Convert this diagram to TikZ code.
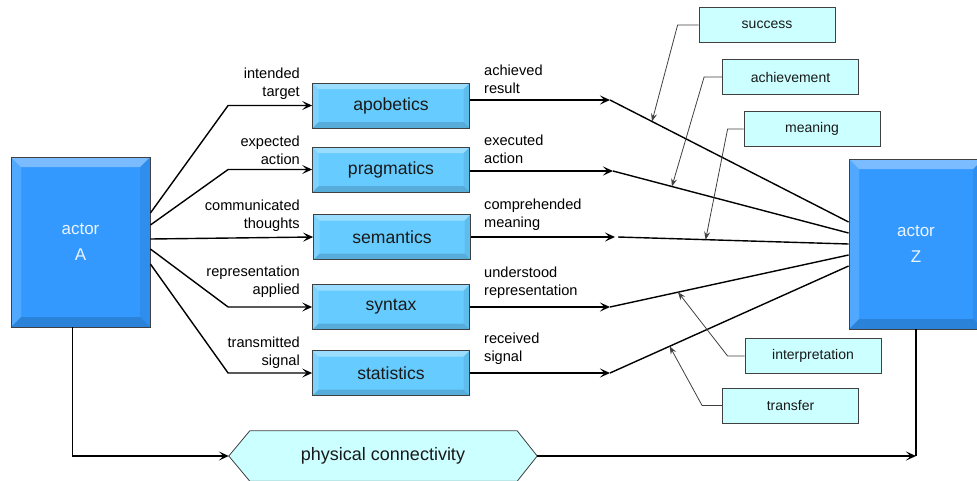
\documentclass[tikz,border=0pt]{standalone}
\usepackage{fontspec}
\setmainfont{Liberation Sans}
\usetikzlibrary{arrows.meta,calc,backgrounds}
\definecolor{actorblue}{HTML}{3399FF}
\definecolor{layerblue}{HTML}{66CCFF}
\definecolor{calloutcyan}{HTML}{CCFFFF}
\definecolor{edgegray}{HTML}{404040}
\newcommand\mybevel[1]{%
  \coordinate (bnw) at (path picture bounding box.north west);
  \coordinate (bne) at (path picture bounding box.north east);
  \coordinate (bsw) at (path picture bounding box.south west);
  \coordinate (bse) at (path picture bounding box.south east);
  \fill[white,opacity=0.35] (bnw) -- (bne) -- ([shift={(-#1pt,-#1pt)}]bne) -- ([shift={(#1pt,-#1pt)}]bnw) -- cycle;
  \fill[white,opacity=0.15] (bnw) -- ([shift={(#1pt,-#1pt)}]bnw) -- ([shift={(#1pt,#1pt)}]bsw) -- (bsw) -- cycle;
  \fill[black,opacity=0.15] (bsw) -- ([shift={(#1pt,#1pt)}]bsw) -- ([shift={(-#1pt,#1pt)}]bse) -- (bse) -- cycle;
  \fill[black,opacity=0.07] (bne) -- (bse) -- ([shift={(-#1pt,#1pt)}]bse) -- ([shift={(-#1pt,-#1pt)}]bne) -- cycle;
}
\begin{document}
\begin{tikzpicture}[x=1pt,y=-1pt,
  actor/.style={draw=edgegray, line width=0.8pt, fill=actorblue, minimum width=139pt, minimum height=170pt,
    text=white!90!actorblue, font=\fontsize{17}{26}\selectfont, align=center, path picture={\mybevel{10}}},
  layer/.style={draw=edgegray, line width=0.8pt, fill=layerblue, minimum width=157pt, minimum height=45pt,
    font=\fontsize{17.6}{20}\selectfont, text=black!90, path picture={\mybevel{6}}},
  callout/.style={draw=edgegray, line width=0.8pt, fill=calloutcyan, minimum width=136pt, minimum height=35pt,
    font=\fontsize{14}{16}\selectfont, text=black!90},
  lbl/.style={font=\fontsize{14.6}{18}\selectfont, inner sep=0pt, text=black},
  conn/.style={line width=1.4pt, black},
  arr/.style={conn, -{Stealth[length=10pt,width=9pt,inset=4.5pt]}},
  note/.style={line width=0.8pt, edgegray, -{Stealth[length=8pt,width=6pt,inset=3pt]}}
]
\useasboundingbox (0,0) rectangle (977,480);

% actors
\node[actor] (A) at (80.5,242) {actor\\A};
\node[actor, minimum width=134pt] (Z) at (916,244) {actor\\Z};

% layers
\node[layer] (apo)  at (391,105.5) {apobetics};
\node[layer] (prag) at (391,169.5) {pragmatics};
\node[layer] (sem)  at (392,237) {semantics};
\node[layer] (syn)  at (391,307) {syntax};
\node[layer] (stat) at (391,373) {statistics};

% left labels
\node[lbl, anchor=east, align=right] (l1) at (300,84)  {intended\\target};
\node[lbl, anchor=east, align=right] (l2) at (300,150) {expected\\action};
\node[lbl, anchor=east, align=right] (l3) at (300,216) {communicated\\thoughts};
\node[lbl, anchor=east, align=right] (l4) at (300,282) {representation\\applied};
\node[lbl, anchor=east, align=right] (l5) at (300,353) {transmitted\\signal};

% right labels
\node[lbl, anchor=west, align=left] (r1) at (484,79)    {achieved\\result};
\node[lbl, anchor=west, align=left] (r2) at (484,149)   {executed\\action};
\node[lbl, anchor=west, align=left] (r3) at (484,215)   {comprehended\\meaning};
\node[lbl, anchor=west, align=left] (r4) at (484,282.5) {understood\\representation};
\node[lbl, anchor=west, align=left] (r5) at (484,348.5) {received\\signal};

% A -> layers
\draw[arr] ([yshift=29pt]A.east) -- ([xshift=-84pt]apo.west) -- (apo.west);
\draw[arr] ([yshift=17pt]A.east) -- ([xshift=-84pt]prag.west) -- (prag.west);
\draw[arr] ([yshift=3pt]A.east) -- (sem.west);
\draw[arr] ([yshift=-7pt]A.east) -- ([xshift=-84pt]syn.west) -- (syn.west);
\draw[arr] ([yshift=-22pt]A.east) -- ([xshift=-84pt]stat.west) -- (stat.west);

% layers -> Z
\coordinate (t1) at (610,100);
\coordinate (t2) at (613,171);
\coordinate (t3) at (615,237);
\coordinate (t4) at (610,307);
\coordinate (t5) at (610,373);
\draw[arr] (apo.east |- t1) -- (t1);
\draw[arr] (prag.east |- t2) -- (t2);
\draw[arr] (sem.east |- t3) -- (t3);
\draw[arr] (syn.east |- t4) -- (t4);
\draw[arr] (stat.east |- t5) -- (t5);
\draw[conn] (t1) -- coordinate[pos=0.176] (p1) ([yshift=22pt]Z.west);
\draw[conn] (t2) -- coordinate[pos=0.25] (p2) ([yshift=11pt]Z.west);
\draw[conn] ([xshift=3pt]t3) -- coordinate[pos=0.38] (p3) (Z.west);
\draw[conn] (t4) -- coordinate[pos=0.285] (p4) ([yshift=-11pt]Z.west);
\draw[conn] (t5) -- coordinate[pos=0.25] (p5) ([yshift=-22pt]Z.west);

% callouts
\node[callout] (succ) at (767,25) {success};
\node[callout] (ach)  at (790.5,77) {achievement};
\node[callout] (mean) at (812,129) {meaning};
\node[callout] (interp) at (813,356) {interpretation};
\node[callout] (trans) at (790.5,405.5) {transfer};
\draw[note] (succ.west) -- ++(-21,0) -- (p1);
\draw[note] (ach.west) -- ++(-18,0) -- (p2);
\draw[note] (mean.west) -- ++(-16,0) -- (p3);
\draw[note] (interp.west) -- ++(-17,0) -- (p4);
\draw[note] (trans.west) -- ++(-20,0) -- (p5);

% physical connectivity
\node[minimum width=308pt, minimum height=50pt, inner sep=0pt, font=\fontsize{18}{20}\selectfont, text=black!90] (hex) at (383,456) {physical connectivity};
\begin{scope}[on background layer]
\draw[draw=edgegray, fill=calloutcyan, line width=0.8pt] (hex.west) -- ([xshift=21pt]hex.north west) -- ([xshift=-20pt]hex.north east) -- (hex.east) -- ([xshift=-20pt]hex.south east) -- ([xshift=21pt]hex.south west) -- cycle;
\end{scope}
\draw[arr] ([xshift=-8pt]A.south) |- (hex.west);
\draw[arr] (hex.east) -- (hex.east -| Z.south);
\draw[conn] (Z.south) -- (hex.east -| Z.south);
\end{tikzpicture}
\end{document}
